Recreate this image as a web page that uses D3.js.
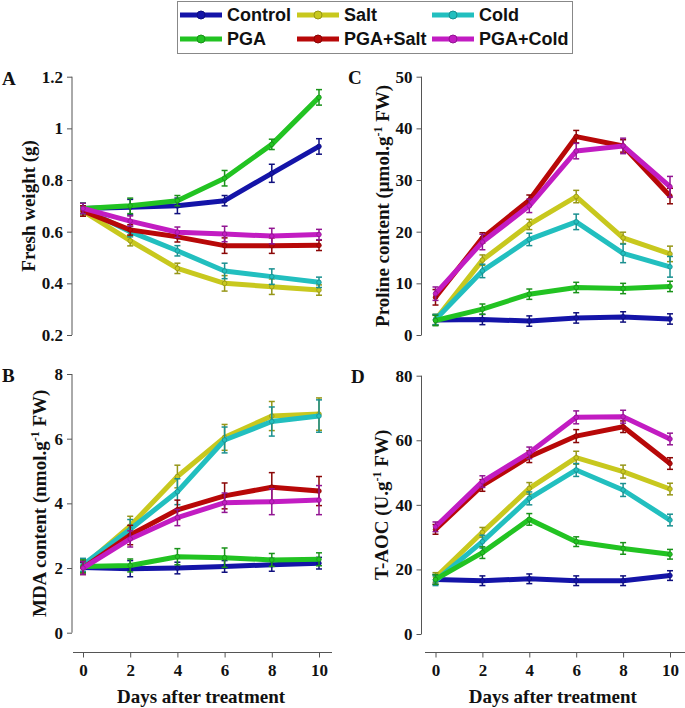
<!DOCTYPE html>
<meta charset="utf-8">
<script src="https://d3js.org/d3.v7.min.js"></script>
<style>
  body { margin: 0; background: #fff; }
  .tick text, .lab { font-family: "Liberation Serif", "Times New Roman", serif; font-weight: bold; }
  .legend text { font-family: "Liberation Sans", Arial, sans-serif; font-weight: bold; font-size: 18px; }
</style>
<div id="viz"></div>
<script>
// x values
const days = [0, 2, 4, 6, 8, 10];

// series, in legend / drawing order
const seriesNames = ["Control", "Salt", "Cold", "PGA", "PGA+Salt", "PGA+Cold"];
const seriesColors = ["#1414a8", "#c8c81e", "#22bfbf", "#22c322", "#b80808", "#c21cc2"];

// A: fresh weight (g)
const freshMean = [
  [0.69, 0.695, 0.70, 0.72, 0.826, 0.93],
  [0.68, 0.565, 0.458, 0.40, 0.387, 0.374],
  [0.69, 0.60, 0.526, 0.448, 0.426, 0.404],
  [0.69, 0.70, 0.72, 0.807, 0.938, 1.12],
  [0.68, 0.607, 0.58, 0.546, 0.546, 0.547],
  [0.69, 0.641, 0.598, 0.591, 0.583, 0.589]
];
const freshErr = [
  [0.02, 0.03, 0.03, 0.02, 0.035, 0.03],
  [0.02, 0.02, 0.02, 0.03, 0.03, 0.02],
  [0.02, 0.02, 0.02, 0.03, 0.03, 0.02],
  [0.02, 0.03, 0.02, 0.03, 0.02, 0.03],
  [0.02, 0.02, 0.02, 0.03, 0.03, 0.02],
  [0.02, 0.02, 0.02, 0.03, 0.03, 0.02]
];

// B: MDA content
const mdaMean = [
  [2.02, 1.98, 2.0, 2.05, 2.1, 2.15],
  [2.05, 3.3, 4.83, 6.04, 6.7, 6.76],
  [2.1, 3.2, 4.36, 5.96, 6.53, 6.7],
  [2.05, 2.08, 2.35, 2.32, 2.25, 2.27],
  [2.0, 3.02, 3.8, 4.23, 4.5, 4.38],
  [2.0, 2.9, 3.56, 4.02, 4.05, 4.1]
];
const mdaErr = [
  [0.15, 0.25, 0.18, 0.18, 0.2, 0.18],
  [0.2, 0.3, 0.35, 0.4, 0.45, 0.5],
  [0.2, 0.3, 0.4, 0.4, 0.45, 0.5],
  [0.2, 0.2, 0.25, 0.3, 0.2, 0.2],
  [0.2, 0.3, 0.3, 0.4, 0.45, 0.45],
  [0.2, 0.25, 0.25, 0.3, 0.4, 0.45]
];

// C: proline content
const prolineMean = [
  [2.9, 3.0, 2.7, 3.3, 3.5, 3.1],
  [3.0, 14.5, 21.4, 26.8, 18.8, 15.7],
  [3.0, 12.4, 18.5, 21.9, 15.8, 13.2],
  [2.8, 5.0, 7.9, 9.2, 9.0, 9.4],
  [7.3, 18.8, 26.1, 38.4, 36.6, 26.9],
  [8.0, 18.0, 25.0, 35.6, 36.6, 28.7]
];
const prolineErr = [
  [1.0, 1.0, 1.0, 1.0, 1.0, 1.0],
  [1.0, 1.0, 1.0, 1.2, 1.1, 1.5],
  [1.0, 1.3, 1.2, 1.5, 1.8, 2.0],
  [1.0, 1.0, 1.0, 1.0, 1.0, 1.0],
  [1.5, 1.0, 1.0, 1.2, 1.2, 1.5],
  [1.3, 1.5, 1.3, 1.5, 1.5, 2.0]
];

// D: T-AOC
const taocMean = [
  [16.9, 16.5, 17.1, 16.5, 16.5, 18.1],
  [17.5, 31.5, 45.1, 54.6, 50.3, 44.9],
  [16.5, 28.6, 42.0, 50.8, 44.6, 35.3],
  [16.9, 25.2, 35.5, 28.6, 26.5, 24.7],
  [32.4, 46.0, 54.9, 61.3, 64.2, 52.8],
  [33.2, 47.2, 56.1, 67.1, 67.3, 60.4]
];
const taocErr = [
  [1.5, 1.5, 1.5, 1.5, 1.5, 1.5],
  [1.5, 1.5, 1.8, 2.0, 2.0, 1.8],
  [1.5, 2.0, 2.0, 2.0, 2.0, 1.8],
  [1.5, 1.8, 1.8, 1.5, 1.8, 1.5],
  [1.5, 1.8, 1.8, 2.0, 1.8, 1.8],
  [1.5, 1.8, 1.8, 2.0, 2.0, 1.8]
];

const W = 685, H = 708;
const svg = d3.select("#viz").append("svg")
  .attr("width", W).attr("height", H);

const panels = [
  {letter: "A", mean: freshMean, err: freshErr, ydom: [0.2, 1.2], yticks: [0.2, 0.4, 0.6, 0.8, 1, 1.2],
   ax: 72, xr: [83, 319], yr: [335, 76.7], xaxis: false, title: ["Fresh weight (g)"], tx: 35, lx: 2, ly: 85},
  {letter: "B", mean: mdaMean, err: mdaErr, ydom: [0, 8], yticks: [0, 2, 4, 6, 8],
   ax: 72, xr: [83, 319], yr: [632.7, 374], xaxis: true, xl: [73, 332], title: ["MDA content (nmol.g", "-1", " FW)"], tx: 46, lx: 2, ly: 382},
  {letter: "C", mean: prolineMean, err: prolineErr, ydom: [0, 50], yticks: [0, 10, 20, 30, 40, 50],
   ax: 421.5, xr: [435.5, 670], yr: [335, 76.7], xaxis: false, title: ["Proline content (\u03bcmol.g", "-1", " FW)"], tx: 389, lx: 348, ly: 84},
  {letter: "D", mean: taocMean, err: taocErr, ydom: [0, 80], yticks: [0, 20, 40, 60, 80],
   ax: 421.5, xr: [435.5, 670], yr: [634, 375.7], xaxis: true, xl: [425, 685], title: ["T-AOC (U.g", "-1", " FW)"], tx: 388, lx: 351, ly: 383}
];

panels.forEach(p => {
  const x = d3.scaleLinear().domain([0, 10]).range(p.xr);
  const y = d3.scaleLinear().domain(p.ydom).range(p.yr);
  const g = svg.append("g");

  // y axis
  const ya = g.append("g")
    .attr("transform", `translate(${p.ax},0)`)
    .call(d3.axisLeft(y).tickValues(p.yticks).tickFormat(d3.format("~g")).tickSize(5).tickPadding(4));
  ya.select(".domain").attr("stroke", "#555").attr("d", `M0,${p.yr[0]}V${p.yr[1]}`);
  ya.selectAll(".tick line").attr("stroke", "#555");
  ya.selectAll(".tick text").attr("font-size", 17).attr("fill", "#111");

  // x axis (bottom panels only)
  if (p.xaxis) {
    const xa = g.append("g")
      .attr("transform", `translate(0,652.5)`)
      .call(d3.axisBottom(x).tickValues(days).tickSize(5).tickPadding(6));
    xa.select(".domain").attr("stroke", "#555").attr("d", `M${p.xl[0]},0H${p.xl[1]}`);
    xa.selectAll(".tick line").attr("stroke", "#555");
    xa.selectAll(".tick text").attr("font-size", 17).attr("fill", "#111");
    g.append("text").attr("class", "lab")
      .attr("x", (p.xr[0] + p.xr[1]) / 2).attr("y", 703)
      .attr("text-anchor", "middle").attr("font-size", 19).attr("fill", "#111")
      .text("Days after treatment");
  }

  // y title
  const yc = (p.yr[0] + p.yr[1]) / 2;
  const t = g.append("text").attr("class", "lab")
    .attr("transform", `translate(${p.tx},${yc}) rotate(-90)`)
    .attr("text-anchor", "middle").attr("font-size", 19).attr("fill", "#111");
  t.append("tspan").text(p.title[0]);
  if (p.title.length > 1) {
    t.append("tspan").attr("font-size", 12).attr("dy", -7).text(p.title[1]);
    t.append("tspan").attr("dy", 7).text(p.title[2]);
  }

  // panel letter
  g.append("text").attr("class", "lab")
    .attr("x", p.lx).attr("y", p.ly).attr("font-size", 19).attr("fill", "#111")
    .text(p.letter);

  const line = d3.line().x((d, i) => x(days[i])).y(d => y(d));

  seriesNames.forEach((name, s) => {
    const col = seriesColors[s];
    const dark = d3.color(col).darker(0.8);
    const sg = g.append("g");
    sg.append("path")
      .datum(p.mean[s])
      .attr("fill", "none").attr("stroke", col)
      .attr("stroke-width", 5).attr("stroke-linejoin", "round")
      .attr("d", line);
    const pts = p.mean[s].map((v, i) => ({d: days[i], v: v, e: p.err[s][i]}));
    sg.selectAll("line.eb").data(pts).enter().append("line")
      .attr("x1", d => x(d.d)).attr("x2", d => x(d.d))
      .attr("y1", d => y(d.v - d.e)).attr("y2", d => y(d.v + d.e))
      .attr("stroke", dark).attr("stroke-width", 1.5);
    [-1, 1].forEach(sign => {
      sg.selectAll(null).data(pts).enter().append("line")
        .attr("x1", d => x(d.d) - 3).attr("x2", d => x(d.d) + 3)
        .attr("y1", d => y(d.v + sign * d.e)).attr("y2", d => y(d.v + sign * d.e))
        .attr("stroke", dark).attr("stroke-width", 1.5);
    });
    sg.selectAll("circle").data(pts).enter().append("circle")
      .attr("cx", d => x(d.d)).attr("cy", d => y(d.v)).attr("r", 2.3)
      .attr("fill", col).attr("stroke", dark).attr("stroke-width", 0.8);
  });
});

// legend
const legX = [180, 297, 432], legY = [15, 39];
const leg = svg.append("g").attr("class", "legend");
leg.append("rect").attr("x", 177.5).attr("y", 1.5).attr("width", 395).attr("height", 52)
  .attr("fill", "#fff").attr("stroke", "#888").attr("stroke-width", 1);
seriesNames.forEach((name, s) => {
  const cx = legX[s % 3], cy = legY[Math.floor(s / 3)];
  const col = seriesColors[s];
  leg.append("line").attr("x1", cx).attr("x2", cx + 42).attr("y1", cy).attr("y2", cy)
    .attr("stroke", col).attr("stroke-width", 5);
  leg.append("circle").attr("cx", cx + 21).attr("cy", cy).attr("r", 4)
    .attr("fill", col).attr("stroke", d3.color(col).darker(0.8)).attr("stroke-width", 1);
  leg.append("text").attr("x", cx + 47).attr("y", cy + 6).attr("fill", "#111").text(name);
});
</script>
